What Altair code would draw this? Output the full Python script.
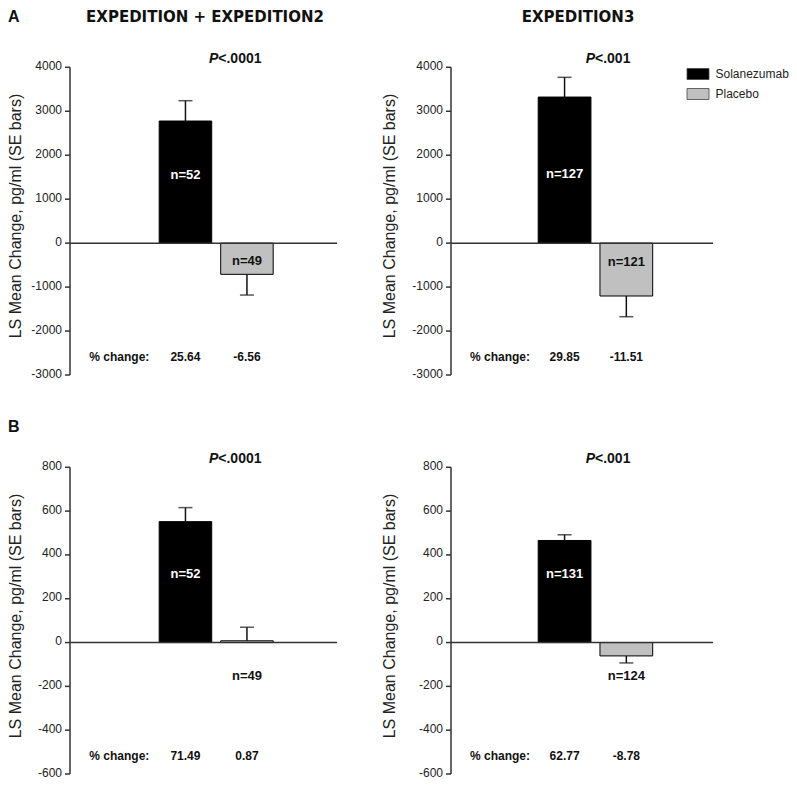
import altair as alt
import pandas as pd

# ---------------- data ----------------
groups = ["Solanezumab", "Placebo"]

tl_mean = [2778, -710]
tl_se = [462, 471]
tl_n = [52, 49]
tl_pct = [25.64, -6.56]
tl_p = "<.0001"

tr_mean = [3323, -1203]
tr_se = [449, 471]
tr_n = [127, 121]
tr_pct = [29.85, -11.51]
tr_p = "<.001"

bl_mean = [552, 8]
bl_se = [64, 62]
bl_n = [52, 49]
bl_pct = [71.49, 0.87]
bl_p = "<.0001"

br_mean = [466, -61]
br_se = [26, 32]
br_n = [131, 124]
br_pct = [62.77, -8.78]
br_p = "<.001"

top_domain = [-3000, 4000]
top_ticks = [-3000, -2000, -1000, 0, 1000, 2000, 3000, 4000]
bottom_domain = [-600, 800]
bottom_ticks = [-600, -400, -200, 0, 200, 400, 600, 800]

section_labels = ["A", "B"]
study_titles = ["EXPEDITION + EXPEDITION2", "EXPEDITION3"]
y_title = "LS Mean Change, pg/ml (SE bars)"
pct_label = "% change:"

# ---------------- styling / layout ----------------
F = "Liberation Sans"
HF = "DejaVu Sans"
TXT = "#111111"
AX = "#333333"
LAB = "#222222"

LEG = alt.Legend(
    title=None, orient="none", legendX=684, legendY=60,
    symbolType="M-2,-1H2V1H-2Z", symbolSize=121,
    symbolStrokeColor="#444444", symbolStrokeWidth=0.8,
    labelFontSize=12, labelFont=F, labelColor=LAB,
    labelOffset=11.5, rowPadding=4, padding=0,
)

layouts = {
    "tl": dict(axis_x=62, y_top=59.3, y_bot=367, x_end=329, band=[151.2, 265.2],
               title_x=7.5, title_y=208, p_x=210.3, p_y=55.3,
               pct_x=81.3, pct_y=352.7, n_y=[167, 253]),
    "tr": dict(axis_x=443, y_top=59.3, y_bot=367, x_end=705, band=[530.2, 644.7],
               title_x=382, title_y=208, p_x=587, p_y=55.3,
               pct_x=462, pct_y=352.7, n_y=[166, 253.7]),
    "bl": dict(axis_x=62, y_top=459.3, y_bot=766, x_end=329, band=[151.2, 265.2],
               title_x=7.5, title_y=608, p_x=210.3, p_y=455.3,
               pct_x=81.3, pct_y=752, n_y=[566, 668]),
    "br": dict(axis_x=443, y_top=459.3, y_bot=766, x_end=705, band=[530.2, 644.7],
               title_x=382, title_y=608, p_x=587, p_y=455.3,
               pct_x=462, pct_y=752, n_y=[566, 668]),
}

one_row = alt.Data(values=[{"k": 1}])


def make_panel(mean, se, n, pct, pval, ydom, yticks, L):
    df = pd.DataFrame({"group": groups, "mean": mean, "se": se, "n": n, "pct": pct})
    df["end"] = [m + s if m >= 0 else m - s for m, s in zip(mean, se)]
    df["nlabel"] = ["n=" + str(v) for v in n]
    df["pctlabel"] = [f"{v:.2f}" for v in pct]
    ticks = pd.DataFrame({"v": yticks, "label": [str(v) for v in yticks]})
    dom = pd.DataFrame({"lo": [ydom[0]], "hi": [ydom[1]]})

    xs = alt.Scale(domain=groups, range=L["band"], paddingInner=0.146, paddingOuter=0)
    ys = alt.Scale(domain=ydom, range=[L["y_bot"], L["y_top"]], nice=False)
    X = alt.X("group:N", scale=xs, axis=None)
    base = alt.Chart(df)

    bars = base.mark_bar(stroke="#000000", strokeWidth=1).encode(
        x=X,
        y=alt.Y("mean:Q", scale=ys, axis=None),
        color=alt.Color("group:N",
                        scale=alt.Scale(domain=groups, range=["#000000", "#c0c0c0"]),
                        legend=LEG),
    )
    stem = base.mark_rule(color=TXT, strokeWidth=1.5).encode(
        x=X, y=alt.Y("mean:Q", scale=ys, axis=None), y2="end:Q"
    )
    cap = base.mark_tick(color=TXT, size=14, thickness=1.5, orient="horizontal").encode(
        x=X, y=alt.Y("end:Q", scale=ys, axis=None)
    )
    zero = alt.Chart(one_row).mark_rule(color=AX, strokeWidth=1.5).encode(
        x=alt.value(L["axis_x"]), x2=alt.value(L["x_end"]),
        y=alt.YDatum(0, type="quantitative", scale=ys, axis=None),
    )
    # y axis drawn through the panel's y scale
    ax_dom = alt.Chart(dom).mark_rule(color=AX, strokeWidth=1.5).encode(
        x=alt.value(L["axis_x"]),
        y=alt.Y("lo:Q", scale=ys, axis=None), y2="hi:Q",
    )
    ax_ticks = alt.Chart(ticks).mark_rule(color=AX, strokeWidth=1.5).encode(
        x=alt.value(L["axis_x"] - 5), x2=alt.value(L["axis_x"]),
        y=alt.Y("v:Q", scale=ys, axis=None),
    )
    ax_labels = alt.Chart(ticks).mark_text(
        color=LAB, font=F, fontSize=12, align="right", baseline="middle", dy=-1.5
    ).encode(
        x=alt.value(L["axis_x"] - 8),
        y=alt.Y("v:Q", scale=ys, axis=None), text="label:N",
    )
    ax_title = alt.Chart(one_row).mark_text(
        text=y_title, color=LAB, font=F, fontSize=16, angle=270,
        align="center", baseline="middle"
    ).encode(x=alt.value(L["title_x"]), y=alt.value(L["title_y"]))

    sol_n = base.transform_filter(alt.datum.group == groups[0]).mark_text(
        color="#ffffff", font=F, fontSize=13, fontWeight="bold", baseline="middle"
    ).encode(x=X, y=alt.value(L["n_y"][0]), text="nlabel:N")
    pla_n = base.transform_filter(alt.datum.group == groups[1]).mark_text(
        color=TXT, font=F, fontSize=13, fontWeight="bold", baseline="middle"
    ).encode(x=X, y=alt.value(L["n_y"][1]), text="nlabel:N")
    pct_vals = base.mark_text(
        color=TXT, font=F, fontSize=12, fontWeight="bold", baseline="alphabetic"
    ).encode(x=X, y=alt.value(L["pct_y"]), text="pctlabel:N")
    pct_lab = alt.Chart(one_row).mark_text(
        text=pct_label, color=TXT, font=F, fontSize=12, fontWeight="bold",
        align="left", baseline="alphabetic"
    ).encode(x=alt.value(L["pct_x"]), y=alt.value(L["pct_y"]))
    p_it = alt.Chart(one_row).mark_text(
        text="P", color=TXT, font=F, fontSize=14, fontWeight="bold", fontStyle="italic",
        align="right", baseline="alphabetic"
    ).encode(x=alt.value(L["p_x"]), y=alt.value(L["p_y"]))
    p_val = alt.Chart(one_row).mark_text(
        text=pval, color=TXT, font=F, fontSize=14, fontWeight="bold",
        align="left", baseline="alphabetic"
    ).encode(x=alt.value(L["p_x"]), y=alt.value(L["p_y"]))

    return alt.layer(bars, stem, cap, zero, ax_dom, ax_ticks, ax_labels, ax_title,
                     sol_n, pla_n, pct_vals, pct_lab, p_it, p_val)


tl = make_panel(tl_mean, tl_se, tl_n, tl_pct, tl_p, top_domain, top_ticks, layouts["tl"])
tr = make_panel(tr_mean, tr_se, tr_n, tr_pct, tr_p, top_domain, top_ticks, layouts["tr"])
bl = make_panel(bl_mean, bl_se, bl_n, bl_pct, bl_p, bottom_domain, bottom_ticks, layouts["bl"])
br = make_panel(br_mean, br_se, br_n, br_pct, br_p, bottom_domain, bottom_ticks, layouts["br"])


def label(text, x, y, font, size, align):
    return alt.Chart(one_row).mark_text(
        text=text, color=TXT, font=font, fontSize=size, fontWeight="bold",
        align=align, baseline="alphabetic"
    ).encode(x=alt.value(x), y=alt.value(y))


lab_a = label(section_labels[0], 0, 14, F, 16, "left")
lab_b = label(section_labels[1], 0, 424, F, 16, "left")
head1 = label(study_titles[0], 197, 14, HF, 15, "center")
head2 = label(study_titles[1], 570, 14, HF, 15, "center")

chart = alt.layer(tl, tr, bl, br, lab_a, lab_b, head1, head2).resolve_scale(
    x="independent", y="independent"
).properties(
    width=781, height=771, padding=0,
    autosize=alt.AutoSizeParams(type="none"),
    background="#ffffff",
).configure_view(strokeWidth=0)

chart.save("out.html", embed_options={"renderer": "svg", "actions": False})
